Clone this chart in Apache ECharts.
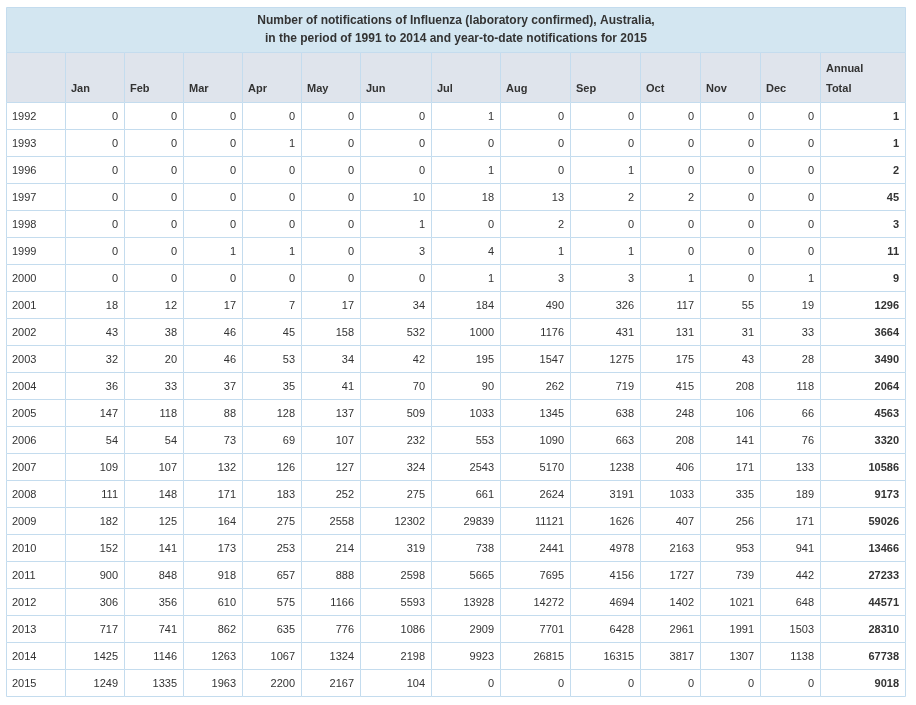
<!DOCTYPE html>
<html>
<head>
<meta charset="utf-8">
<title>Influenza notifications, Australia</title>
<script src="https://cdn.jsdelivr.net/npm/echarts@6/dist/echarts.min.js"></script>
<style>
html, body { margin: 0; padding: 0; background: #fff; }
#main { width: 916px; height: 705px; }
</style>
</head>
<body>
<div id="main"></div>
<script>
// titel + kolomkoppen
var titleLines = [
	'Number of notifications of Influenza (laboratory confirmed), Australia,',
	'in the period of 1991 to 2014 and year-to-date notifications for 2015'
];
var columnHeaders = ['', 'Jan', 'Feb', 'Mar', 'Apr', 'May', 'Jun', 'Jul', 'Aug', 'Sep', 'Oct', 'Nov', 'Dec', 'Annual\nTotal'];

var years = ['1992', '1993', '1996', '1997', '1998', '1999', '2000', '2001', '2002', '2003', '2004',
	'2005', '2006', '2007', '2008', '2009', '2010', '2011', '2012', '2013', '2014', '2015'];

// meldingen per maand (een waarde per jaar)
var jan = [0, 0, 0, 0, 0, 0, 0, 18, 43, 32, 36, 147, 54, 109, 111, 182, 152, 900, 306, 717, 1425, 1249];
var feb = [0, 0, 0, 0, 0, 0, 0, 12, 38, 20, 33, 118, 54, 107, 148, 125, 141, 848, 356, 741, 1146, 1335];
var mar = [0, 0, 0, 0, 0, 1, 0, 17, 46, 46, 37, 88, 73, 132, 171, 164, 173, 918, 610, 862, 1263, 1963];
var apr = [0, 1, 0, 0, 0, 1, 0, 7, 45, 53, 35, 128, 69, 126, 183, 275, 253, 657, 575, 635, 1067, 2200];
var may = [0, 0, 0, 0, 0, 0, 0, 17, 158, 34, 41, 137, 107, 127, 252, 2558, 214, 888, 1166, 776, 1324, 2167];
var jun = [0, 0, 0, 10, 1, 3, 0, 34, 532, 42, 70, 509, 232, 324, 275, 12302, 319, 2598, 5593, 1086, 2198, 104];
var jul = [1, 0, 1, 18, 0, 4, 1, 184, 1000, 195, 90, 1033, 553, 2543, 661, 29839, 738, 5665, 13928, 2909, 9923, 0];
var aug = [0, 0, 0, 13, 2, 1, 3, 490, 1176, 1547, 262, 1345, 1090, 5170, 2624, 11121, 2441, 7695, 14272, 7701, 26815, 0];
var sep = [0, 0, 1, 2, 0, 1, 3, 326, 431, 1275, 719, 638, 663, 1238, 3191, 1626, 4978, 4156, 4694, 6428, 16315, 0];
var oct = [0, 0, 0, 2, 0, 0, 1, 117, 131, 175, 415, 248, 208, 406, 1033, 407, 2163, 1727, 1402, 2961, 3817, 0];
var nov = [0, 0, 0, 0, 0, 0, 0, 55, 31, 43, 208, 106, 141, 171, 335, 256, 953, 739, 1021, 1991, 1307, 0];
var dec = [0, 0, 0, 0, 0, 0, 1, 19, 33, 28, 118, 66, 76, 133, 189, 171, 941, 442, 648, 1503, 1138, 0];
var annualTotal = [1, 1, 2, 45, 3, 11, 9, 1296, 3664, 3490, 2064, 4563, 3320, 10586, 9173, 59026, 13466,
	27233, 44571, 28310, 67738, 9018];

var monthColumns = [jan, feb, mar, apr, may, jun, jul, aug, sep, oct, nov, dec];

// opmaak van de tabel (breedtes/hoogtes in px, via de assen omgerekend)
var colWidths = [59, 59, 59, 59, 59, 59, 70.4, 69.6, 70, 70, 60, 60, 60, 85];
var titleH = 45.3, headerH = 50, rowH = 26.97;
var borderColor = '#c4dcee';
var textColor = '#333';
var fontFamily = '"Liberation Sans", Arial, sans-serif';

var colEdges = [0];
for (var i = 0; i < colWidths.length; i++) {
	colEdges.push(colEdges[i] + colWidths[i]);
}
var tableW = colEdges[colEdges.length - 1];
var tableH = titleH + headerH + rowH * years.length;

// rij -2 = titel, -1 = kop, 0.. = jaren
function rowTop(r) {
	if (r === -2) return 0;
	if (r === -1) return titleH;
	return titleH + headerH + r * rowH;
}
function rowBottom(r) {
	if (r === -2) return titleH;
	if (r === -1) return titleH + headerH;
	return rowTop(r) + rowH;
}

// cellen opbouwen
var cells = [];
cells.push({ c0: 0, c1: colWidths.length, r: -2, text: titleLines.join('\n'), kind: 'title' });
for (var c = 0; c < columnHeaders.length; c++) {
	cells.push({ c0: c, c1: c + 1, r: -1, text: columnHeaders[c], kind: 'header' });
}
for (var r = 0; r < years.length; r++) {
	cells.push({ c0: 0, c1: 1, r: r, text: years[r], kind: 'year' });
	for (var m = 0; m < monthColumns.length; m++) {
		cells.push({ c0: m + 1, c1: m + 2, r: r, text: String(monthColumns[m][r]), kind: 'value' });
	}
	cells.push({ c0: 13, c1: 14, r: r, text: String(annualTotal[r]), kind: 'total' });
}

function renderCell(params, api) {
	var cell = cells[params.dataIndex];
	var p0 = api.coord([colEdges[cell.c0], rowTop(cell.r)]);
	var p1 = api.coord([colEdges[cell.c1], rowBottom(cell.r)]);
	var x0 = Math.round(p0[0]) + 0.5, y0 = Math.round(p0[1]) + 0.5;
	var x1 = Math.round(p1[0]) + 0.5, y1 = Math.round(p1[1]) + 0.5;

	var fill = '#fff';
	if (cell.kind === 'title') fill = '#d3e6f1';
	if (cell.kind === 'header') fill = '#dfe4ec';

	var ts = {
		text: cell.text,
		fill: textColor,
		fontFamily: fontFamily,
		fontSize: 11,
		fontWeight: 'normal',
		x: x1 - 6.5,
		y: (y0 + y1) / 2 + 0.5,
		align: 'right',
		verticalAlign: 'middle'
	};
	if (cell.kind === 'title') {
		ts.fontSize = 12;
		ts.fontWeight = 'bold';
		ts.align = 'center';
		ts.x = (x0 + x1) / 2;
		ts.y = (y0 + y1) / 2;
		ts.lineHeight = 18;
	} else if (cell.kind === 'header') {
		ts.fontWeight = 'bold';
		ts.align = 'left';
		ts.verticalAlign = 'bottom';
		ts.x = x0 + 5.5;
		ts.y = y1 - 4;
		ts.lineHeight = 20;
	} else if (cell.kind === 'year') {
		ts.align = 'left';
		ts.x = x0 + 5.5;
	} else if (cell.kind === 'total') {
		ts.fontWeight = 'bold';
	}

	return {
		type: 'group',
		children: [{
			type: 'rect',
			shape: { x: x0, y: y0, width: x1 - x0, height: y1 - y0 },
			style: { fill: fill, stroke: borderColor, lineWidth: 1 }
		}, {
			type: 'text',
			style: ts
		}]
	};
}

var chart = echarts.init(document.getElementById('main'));
chart.setOption({
	animation: false,
	grid: { left: 6.3, top: 7, width: tableW, height: tableH },
	xAxis: { type: 'value', min: 0, max: tableW, show: false },
	yAxis: { type: 'value', min: 0, max: tableH, inverse: true, show: false },
	series: [{
		type: 'custom',
		clip: false,
		silent: true,
		renderItem: renderCell,
		data: cells.map(function(cell) {
			return [colEdges[cell.c0], rowTop(cell.r)];
		})
	}]
});
</script>
</body>
</html>
